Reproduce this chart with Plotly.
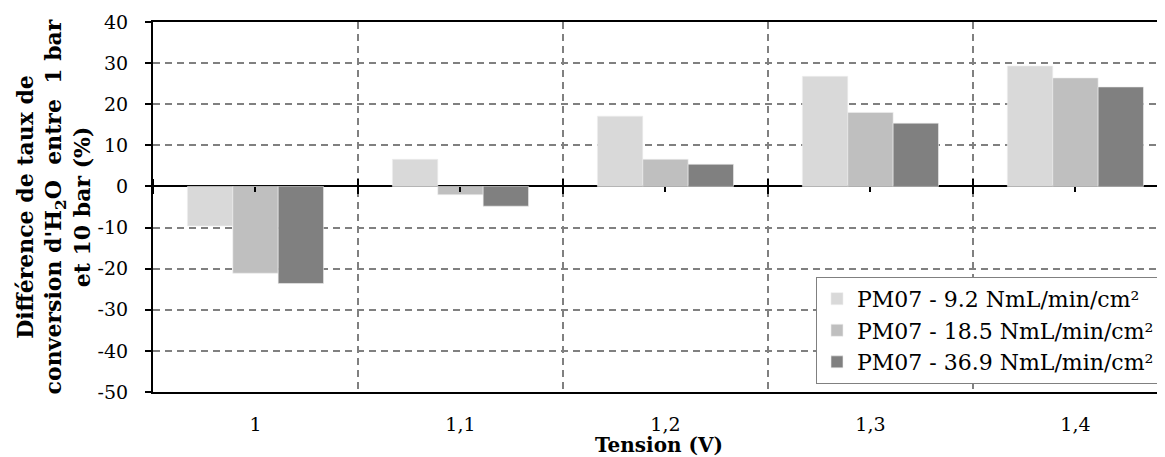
import plotly.graph_objects as go

categories = ["1", "1,1", "1,2", "1,3", "1,4"]
series_names = ["PM07 - 9.2 NmL/min/cm²", "PM07 - 18.5 NmL/min/cm²", "PM07 - 36.9 NmL/min/cm²"]
s_92 = [-9.6, 6.6, 17.1, 26.8, 29.3]
s_185 = [-21.1, -2.0, 6.6, 18.0, 26.4]
s_369 = [-23.6, -4.8, 5.4, 15.4, 24.2]
y_ticks = [-50, -40, -30, -20, -10, 0, 10, 20, 30, 40]
y_tick_labels = ["-50", "-40", "-30", "-20", "-10", "0", "10", "20", "30", "40"]
colors = ["#D9D9D9", "#BFBFBF", "#808080"]

FONT = "DejaVu Serif"
n = len(categories)
x_right = n - 0.5 - 0.063  # plot area runs slightly past the window edge

fig = go.Figure()
for name, vals, col in zip(series_names, [s_92, s_185, s_369], colors):
    fig.add_trace(go.Bar(x=categories, y=vals, name=name,
                         marker=dict(color=col, line=dict(width=0.6, color="#eeeeee"))))

# helper invisible traces so that the overlay tick axes are drawn
fig.add_trace(go.Scatter(x=[0], y=[0], xaxis="x2", mode="markers",
                         marker=dict(opacity=0), showlegend=False, hoverinfo="skip"))
fig.add_trace(go.Scatter(x=[0], y=[0], xaxis="x3", mode="markers",
                         marker=dict(opacity=0), showlegend=False, hoverinfo="skip"))

y_min, y_max = y_ticks[0], y_ticks[-1]
zero_pos = (0 - y_min) / (y_max - y_min)

fig.update_layout(
    width=1157, height=449,
    margin=dict(l=145, r=0, t=14, b=65),
    paper_bgcolor="white", plot_bgcolor="white",
    font=dict(family=FONT, color="black", size=19),
    barmode="group", bargap=0.336, bargroupgap=0,
    showlegend=True,
    legend=dict(x=(816 - 153) / 1012, y=0.022, xanchor="left", yanchor="bottom",
                bgcolor="white", bordercolor="#808080", borderwidth=1,
                font=dict(family=FONT, size=22), itemwidth=30,
                tracegroupgap=0),
    xaxis=dict(
        type="category", range=[-0.5, x_right], tickson="boundaries",
        showgrid=True, gridcolor="#808080", gridwidth=1.5, griddash="7px,5px",
        showline=True, linecolor="black", linewidth=2, mirror=True,
        ticks="", ticklabelstandoff=14, tickfont=dict(size=19),
        title=dict(text="<b>Tension (V)</b>", font=dict(size=20), standoff=6),
        zeroline=False, automargin=False,
    ),
    xaxis2=dict(
        overlaying="x", anchor="free", position=zero_pos, range=[-0.5, x_right],
        showgrid=False, showline=False, zeroline=False, showticklabels=False,
        tickmode="linear", tick0=0.5, dtick=1, ticks="outside", ticklen=7,
        tickwidth=2, tickcolor="black", automargin=False,
        minor=dict(tick0=0, dtick=1, ticks="outside", ticklen=5, tickwidth=1.5,
                   tickcolor="black", showgrid=False),
    ),
    xaxis3=dict(
        overlaying="x", anchor="free", position=zero_pos, side="top", range=[-0.5, x_right],
        showgrid=False, showline=False, zeroline=False, showticklabels=False,
        tickmode="linear", tick0=0.5, dtick=1, ticks="outside", ticklen=7,
        tickwidth=2, tickcolor="black", automargin=False,
    ),
    yaxis=dict(
        range=[y_min, y_max], tickmode="array", tickvals=y_ticks, ticktext=y_tick_labels,
        showgrid=True, gridcolor="#808080", gridwidth=1.5, griddash="7px,5px",
        showline=True, linecolor="black", linewidth=2,
        ticks="outside", ticklen=6, tickwidth=2, tickcolor="black",
        ticklabelstandoff=13, tickfont=dict(size=19),
        zeroline=True, zerolinecolor="black", zerolinewidth=2,
        automargin=False,
        title=dict(text="<b>Différence de taux de<br>conversion d'H<sub>2</sub>O\u00a0 entre\u00a0 1 bar<br>et 10 bar (%)</b>",
                   font=dict(size=22), standoff=1),
    ),
)

fig.write_html("out.html")
